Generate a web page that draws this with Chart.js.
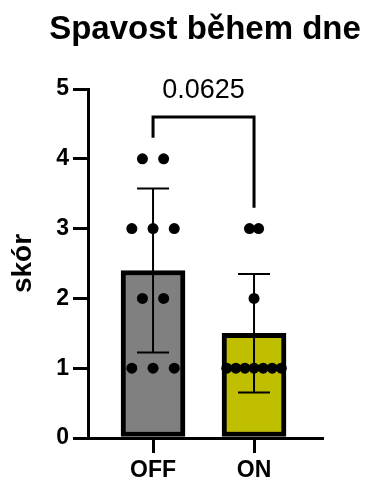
<!DOCTYPE html>
<html>
<head>
<meta charset="utf-8">
<script src="https://cdn.jsdelivr.net/npm/chart.js@4.4.0/dist/chart.umd.min.js"></script>
<style>
	body { margin: 0; background: #fff; }
	canvas { display: block; }
</style>
</head>
<body>
<canvas id="chart" width="367" height="483"></canvas>
<script>
const chartTitle = 'Spavost během dne';
const axisTitle = 'skór';
const categories = ['OFF', 'ON'];
const offScores = [4, 4, 3, 3, 3, 2, 2, 1, 1, 1];
const onScores = [3, 3, 2, 1, 1, 1, 1, 1, 1, 1];
const pValue = '0.0625';
const fills = ['#808080', '#bfbf00'];

const groups = [offScores, onScores];
const jitterStep = [0.21, 0.09];
const FONT = 'Liberation Sans, Arial, sans-serif';

const mean = (a) => a.reduce((s, v) => s + v, 0) / a.length;
const sd = (a) => {
	const m = mean(a);
	return Math.sqrt(a.reduce((s, v) => s + (v - m) ** 2, 0) / (a.length - 1));
};

// rozloží body se stejnou hodnotou vedle sebe
function spread(scores, cat, step) {
	const pts = [];
	[...new Set(scores)].forEach((v) => {
		const n = scores.filter((s) => s === v).length;
		for (let i = 0; i < n; i++) pts.push({ x: cat + (i - (n - 1) / 2) * step, y: v });
	});
	return pts;
}

const dots = [];
groups.forEach((g, i) => dots.push(...spread(g, i, jitterStep[i])));

const extras = {
	id: 'extras',
	afterDatasetDraw(chart, args) {
		if (args.index !== 1) return;
		const { ctx, scales: { x, y } } = chart;
		ctx.save();
		ctx.strokeStyle = '#000';
		ctx.lineWidth = 2;
		groups.forEach((g, i) => {
			const m = mean(g), s = sd(g);
			const px = x.getPixelForValue(i);
			const top = y.getPixelForValue(m + s), bot = y.getPixelForValue(m - s);
			ctx.beginPath();
			ctx.moveTo(px, top); ctx.lineTo(px, bot);
			ctx.moveTo(px - 16, top); ctx.lineTo(px + 16, top);
			ctx.moveTo(px - 16, bot); ctx.lineTo(px + 16, bot);
			ctx.stroke();
		});
		ctx.restore();
	},
	afterDraw(chart) {
		const { ctx, chartArea, scales: { x, y } } = chart;
		ctx.save();
		ctx.fillStyle = '#000';
		ctx.textAlign = 'center';
		ctx.font = 'bold 33px ' + FONT;
		ctx.fillText(chartTitle, (chartArea.left + chartArea.right) / 2, 39);

		// significance bracket
		const x0 = x.getPixelForValue(0), x1 = x.getPixelForValue(1);
		const yTop = y.getPixelForValue(4.6);
		ctx.strokeStyle = '#000';
		ctx.lineWidth = 3;
		ctx.lineJoin = 'miter';
		ctx.beginPath();
		ctx.moveTo(x0, y.getPixelForValue(Math.max(...offScores) + 0.3));
		ctx.lineTo(x0, yTop);
		ctx.lineTo(x1, yTop);
		ctx.lineTo(x1, y.getPixelForValue(Math.max(...onScores) + 0.3));
		ctx.stroke();
		ctx.font = '27px ' + FONT;
		ctx.fillText(pValue, (x0 + x1) / 2, yTop - 19);
		ctx.restore();
	}
};

const canvas = document.getElementById('chart');

new Chart(canvas, {
	type: 'bar',
	data: {
		datasets: [
			{
				type: 'scatter',
				data: dots,
				backgroundColor: '#000',
				borderWidth: 0,
				pointRadius: 5.5,
				clip: false,
				order: 1
			},
			{
				type: 'bar',
				data: groups.map((g, i) => ({ x: i, y: mean(g) })),
				backgroundColor: fills,
				borderColor: '#000',
				borderWidth: 5,
				borderSkipped: false,
				barThickness: 64,
				order: 2
			}
		]
	},
	options: {
		responsive: false,
		animation: false,
		layout: { padding: { top: 89, right: 45, left: 0, bottom: 0 } },
		plugins: { legend: { display: false }, tooltip: { enabled: false } },
		scales: {
			x: {
				type: 'linear',
				offset: false,
				min: -0.644,
				max: 1.673,
				afterBuildTicks: (scale) => { scale.ticks = categories.map((c, i) => ({ value: i })); },
				afterFit: (scale) => { scale.height = 45; },
				ticks: {
					callback: (v) => categories[v],
					font: { family: FONT, size: 23, weight: 'bold' },
					color: '#000',
					padding: 4,
					maxRotation: 0
				},
				grid: { offset: false, drawOnChartArea: false, tickLength: 15, color: '#000', lineWidth: 3 },
				border: { display: true, color: '#000', width: 3 }
			},
			y: {
				min: 0,
				max: 5,
				afterFit: (scale) => { scale.width = 88; },
				ticks: {
					stepSize: 1,
					font: { family: FONT, size: 23, weight: 'bold' },
					color: '#000',
					padding: 4
				},
				grid: { drawOnChartArea: false, tickLength: 15, color: '#000', lineWidth: 3 },
				border: { display: true, color: '#000', width: 3 },
				title: {
					display: true,
					text: axisTitle,
					color: '#000',
					font: { family: FONT, size: 28, weight: 'bold' },
					padding: { top: 6, bottom: 0 }
				}
			}
		}
	},
	plugins: [extras]
});
</script>
</body>
</html>
